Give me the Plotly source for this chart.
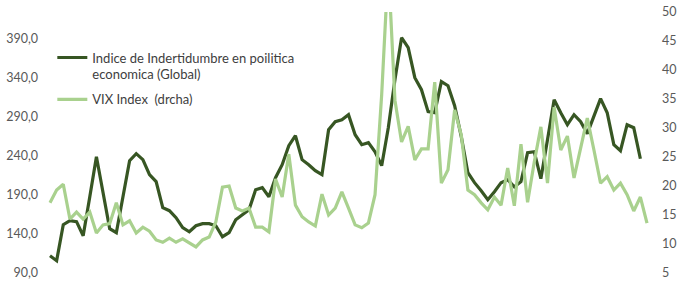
import plotly.graph_objects as go

# Quarterly observations (index only, no x labels shown in the chart)
epu_global = [112.2, 105.8, 151.9, 157.1, 155.8, 137.8, 187.8, 239.1, 192.9, 146.8,
              141.7, 187.8, 234.0, 243.0, 235.3, 216.0, 207.1, 173.7, 169.9, 160.9,
              148.1, 142.9, 150.6, 153.2, 153.2, 150.6, 136.5, 141.7, 158.3, 164.7,
              171.2, 196.8, 199.4, 187.8, 212.2, 228.8, 253.2, 266.0, 235.3, 228.8,
              221.2, 216.0, 273.7, 284.0, 286.5, 292.9, 267.3, 254.5, 257.1, 245.5,
              227.6, 276.3, 337.8, 391.7, 378.8, 340.4, 325.0, 296.8, 295.5, 335.3,
              330.1, 304.5, 264.8, 218.6, 205.8, 195.5, 184.0, 194.2, 205.8, 209.6,
              200.6, 207.1, 244.2, 245.5, 210.9, 260.9, 312.2, 295.5, 280.1, 292.9,
              283.9, 268.6, 290.4, 313.5, 295.5, 254.5, 246.8, 280.1, 276.3, 236.5,
              None]

vix_index = [17.1, 19.3, 20.3, 14.3, 15.5, 14.3, 15.5, 11.9, 13.3, 13.5,
             17.1, 13.3, 14.0, 11.9, 12.9, 12.2, 10.7, 10.3, 11.0, 10.3,
             10.9, 10.2, 9.5, 10.7, 11.2, 13.8, 19.8, 20.0, 16.2, 15.7,
             16.2, 12.9, 12.9, 12.1, 21.2, 18.1, 25.5, 16.7, 14.7, 13.8,
             13.1, 18.6, 15.0, 16.2, 19.0, 16.2, 13.3, 12.8, 13.6, 18.5,
             35.7, 58.0, 34.8, 27.6, 30.3, 24.5, 26.4, 26.4, 37.9, 20.5,
             22.8, 33.1, 28.8, 19.3, 18.5, 17.1, 15.9, 18.1, 16.7, 23.1,
             16.6, 27.2, 17.2, 24.1, 30.2, 20.5, 33.6, 26.2, 28.6, 21.4,
             26.6, 31.7, 26.2, 20.5, 21.6, 19.3, 20.5, 18.5, 15.7, 18.1,
             13.6]

periods = list(range(len(vix_index)))

left_ticks = [90, 140, 190, 240, 290, 340, 390]
left_tick_text = ["90,0", "140,0", "190,0", "240,0", "290,0", "340,0", "390,0"]
right_ticks = [5, 10, 15, 20, 25, 30, 35, 40, 45, 50]

name_epu = "Indice de Indertidumbre en poilitica<br>economica (Global)"
name_vix = "VIX Index  (drcha)"

DARK = "#375623"
LIGHT = "#A9D18E"
TXT = "#595959"
FONT = "Lato"

fig = go.Figure()
fig.add_trace(go.Scatter(x=periods, y=epu_global, name=name_epu, mode="lines",
                         line=dict(color=DARK, width=3.2), yaxis="y",
                         legendgroup="a"))
fig.add_trace(go.Scatter(x=periods, y=vix_index, name=name_vix, mode="lines",
                         line=dict(color=LIGHT, width=3.2), yaxis="y2",
                         legendgroup="b"))

fig.update_layout(
    width=695, height=300,
    margin=dict(l=45, r=40, t=12, b=27, autoexpand=False),
    paper_bgcolor="white", plot_bgcolor="white",
    font=dict(family=FONT, size=12, color=TXT),
    xaxis=dict(range=[-0.754, 91.206], showgrid=False, zeroline=False,
               showline=False, showticklabels=False, ticks="", automargin=False),
    yaxis=dict(range=[90, 424.6], tickvals=left_ticks, ticktext=left_tick_text,
               showgrid=False, zeroline=False, showline=False, ticks="",
               ticklabelstandoff=6, automargin=False,
               tickfont=dict(family=FONT, size=12.5, color=TXT)),
    yaxis2=dict(range=[5, 50], tickvals=right_ticks, overlaying="y", side="right",
                showgrid=False, zeroline=False, showline=False, ticks="",
                ticklabelstandoff=6, automargin=False,
                tickfont=dict(family=FONT, size=12.5, color=TXT)),
    legend=dict(x=0.012, y=0.883, xanchor="left", yanchor="top",
                bgcolor="rgba(0,0,0,0)", valign="top",
                font=dict(family=FONT, size=13, color="#404040"),
                tracegroupgap=5),
    showlegend=True,
)

fig.write_html("out.html")
